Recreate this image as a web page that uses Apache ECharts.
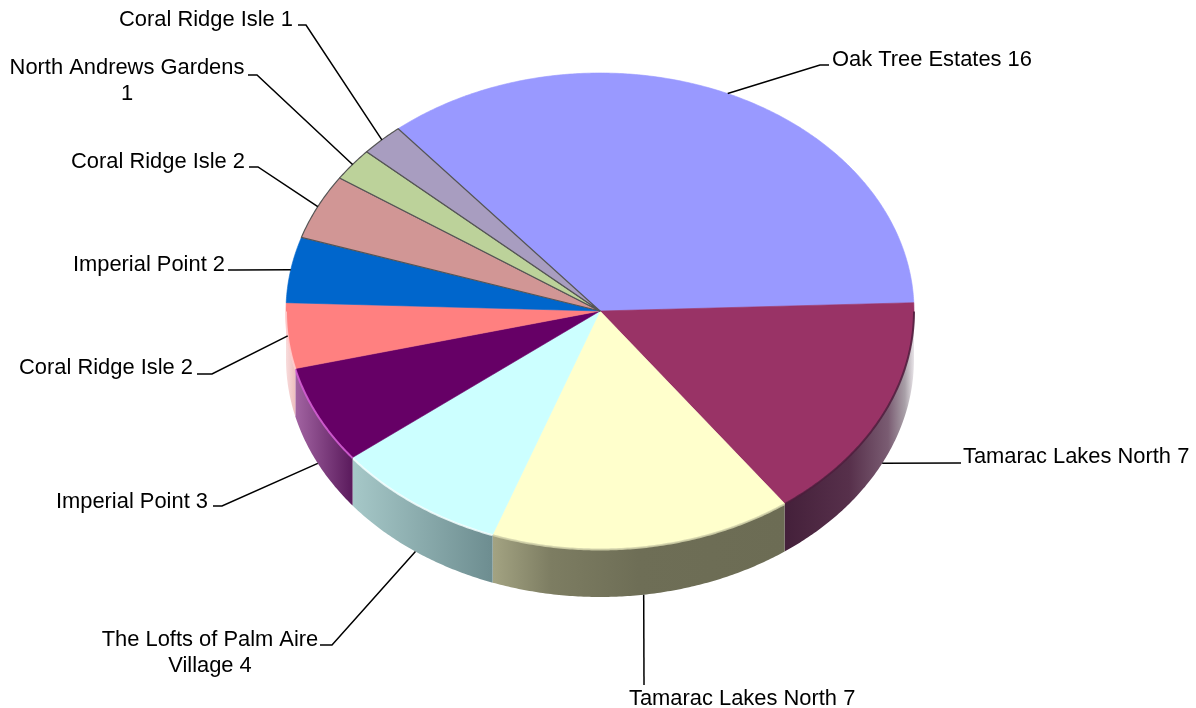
<!DOCTYPE html>
<html>
<head>
<meta charset="utf-8">
<style>html,body{margin:0;padding:0;background:#fff}#c{width:1196px;height:708px}</style>
<script src="https://cdn.jsdelivr.net/npm/echarts@6/dist/echarts.min.js"></script>
</head>
<body>
<div id="c"></div>
<script>
// ---- data (clockwise from the start angle) ----
const categories = ['Oak Tree Estates','Tamarac Lakes North','Tamarac Lakes North','The Lofts of Palm Aire Village','Imperial Point','Coral Ridge Isle','Imperial Point','Coral Ridge Isle','North Andrews Gardens','Coral Ridge Isle'];
const values = [16,7,7,4,3,2,2,2,1,1];
const labels = ['Oak Tree Estates 16','Tamarac Lakes North 7','Tamarac Lakes North 7','The Lofts of Palm Aire\nVillage 4','Imperial Point 3','Coral Ridge Isle 2','Imperial Point 2','Coral Ridge Isle 2','North Andrews Gardens\n1','Coral Ridge Isle 1'];

// ---- styles ----
const topColors = ['#9999FF','#993366','#FFFFCC','#CCFFFF','#660066','#FF8080','#0066CC','#D19695','#BCD29A','#A89DC0'];
const wallStops = [
  null,
  [[0,'#44203A'],[0.5,'#57304B'],[0.8,'#7A5C72'],[0.93,'#A9A0A8'],[1,'#E8E4E8']],
  [[0,'#A3A382'],[0.2,'#7D7D62'],[0.5,'#6E6E56'],[1,'#6C6C54']],
  [[0,'#A6C8C8'],[1,'#6D8D90']],
  [[0,'#A264A2'],[1,'#5A1A5C']],
  [[0,'#F8DCDC'],[1,'#EDBEBE']],
  [[0,'#7FA8D8'],[1,'#5F8EC8']],
  null, null, null
];
const rimColors = [null,'#4E1C3C','#D4D4AC','#F4FFFF','#D860D8','#FFD0D0',null,null,null,null];
const borders = [null,null,null,null,null,null,null,'#555555','#555555','#555555'];

// ---- layout ----
const pie = {cx:600, cy:311, rx:314, ry:238, depth:48, start:-40};
const font = '21.9px "Liberation Sans", Arial, sans-serif';
const labelLayout = [
  {x:832, y:60,  align:'left',   elbow:[[820,65],[829,65]]},
  {x:963, y:457, align:'left',   wall:true, elbow:[[958,463],[961,463]]},
  {x:629, y:699, align:'left',   wall:true, elbow:[[644,685]]},
  {x:210, y:653, align:'center', wall:true, elbow:[[332,645],[320,645]]},
  {x:208, y:502, align:'right',  wall:true, elbow:[[222,506],[213,506]]},
  {x:193, y:368, align:'right',  elbow:[[212,374],[197,374]]},
  {x:225, y:265, align:'right',  elbow:[[235,270],[228,270]]},
  {x:245, y:162, align:'right',  elbow:[[258,167],[249,167]]},
  {x:127, y:81,  align:'center', elbow:[[257,75],[248,75]]},
  {x:293, y:20,  align:'right',  elbow:[[306,25],[298,25]]}
];

const total = values.reduce((a,b)=>a+b,0);
const cum = [];
values.reduce((s,v,i)=>{cum[i]=s;return s+v;},0);
const ang = s => pie.start + s/total*360;
function pt(deg, dy){
  const r = deg*Math.PI/180;
  return [pie.cx + pie.rx*Math.sin(r), pie.cy - pie.ry*Math.cos(r) + (dy||0)];
}
function arc(a0,a1,dy){
  const pts=[], n=Math.max(2,Math.ceil((a1-a0)/0.5));
  for(let i=0;i<=n;i++) pts.push(pt(a0+(a1-a0)*i/n,dy));
  return pts;
}

function renderItem(params, api){
  const i = api.value(0), v = api.value(1);
  const a0 = ang(cum[i]), a1 = a0 + v/total*360;
  const kids = [];
  // side wall: only the part of the rim that faces the viewer
  const w0 = Math.max(a0,90), w1 = Math.min(a1,270);
  if (w1 > w0 && wallStops[i]) {
    const top = arc(w0,w1,0), bot = arc(w0,w1,pie.depth).reverse();
    const goesLeft = top[0][0] > top[top.length-1][0];
    const st = wallStops[i].map(s=>({offset: goesLeft ? s[0] : 1-s[0], color:s[1]})).sort((p,q)=>p.offset-q.offset);
    kids.push({type:'polygon', shape:{points:top.concat(bot)},
      style:{fill:{type:'linear',x:0,y:0,x2:1,y2:0,colorStops:st}}});
  }
  // top face
  const face = [[pie.cx,pie.cy]].concat(arc(a0,a1,0));
  kids.push({type:'polygon', shape:{points:face},
    style: borders[i] ? {fill:topColors[i],stroke:borders[i],lineWidth:1.2,lineJoin:'round'}
                      : {fill:topColors[i],stroke:topColors[i],lineWidth:0.6}});
  // bevel line along the front rim
  if (w1 > w0 && rimColors[i]) {
    kids.push({type:'polyline', shape:{points:arc(w0,w1,0.5)},
      style:{fill:null,stroke:rimColors[i],lineWidth:2,opacity:0.85}});
  }
  // leader line, from the middle of the slice's rim
  const lay = labelLayout[i];
  const mid = (a0+a1)/2;
  kids.push({type:'polyline', z2:5,
    shape:{points:[pt(mid, lay.wall ? pie.depth : 0)].concat(lay.elbow)},
    style:{fill:null,stroke:'#000',lineWidth:1.5}});
  kids.push({type:'text', z2:6,
    style:{x:lay.x,y:lay.y,text:labels[i],font:font,fill:'#000',align:lay.align,verticalAlign:'middle',lineHeight:26}});
  return {type:'group',children:kids};
}

const chart = echarts.init(document.getElementById('c'),null,{renderer:'canvas'});
chart.setOption({
  animation:false,
  backgroundColor:'#fff',
  series:[{
    type:'custom',
    name:'Communities',
    coordinateSystem:'none',
    renderItem:renderItem,
    data:values.map((v,i)=>({value:[i,v],name:categories[i]})),
    silent:true
  }]
});
</script>
</body>
</html>
